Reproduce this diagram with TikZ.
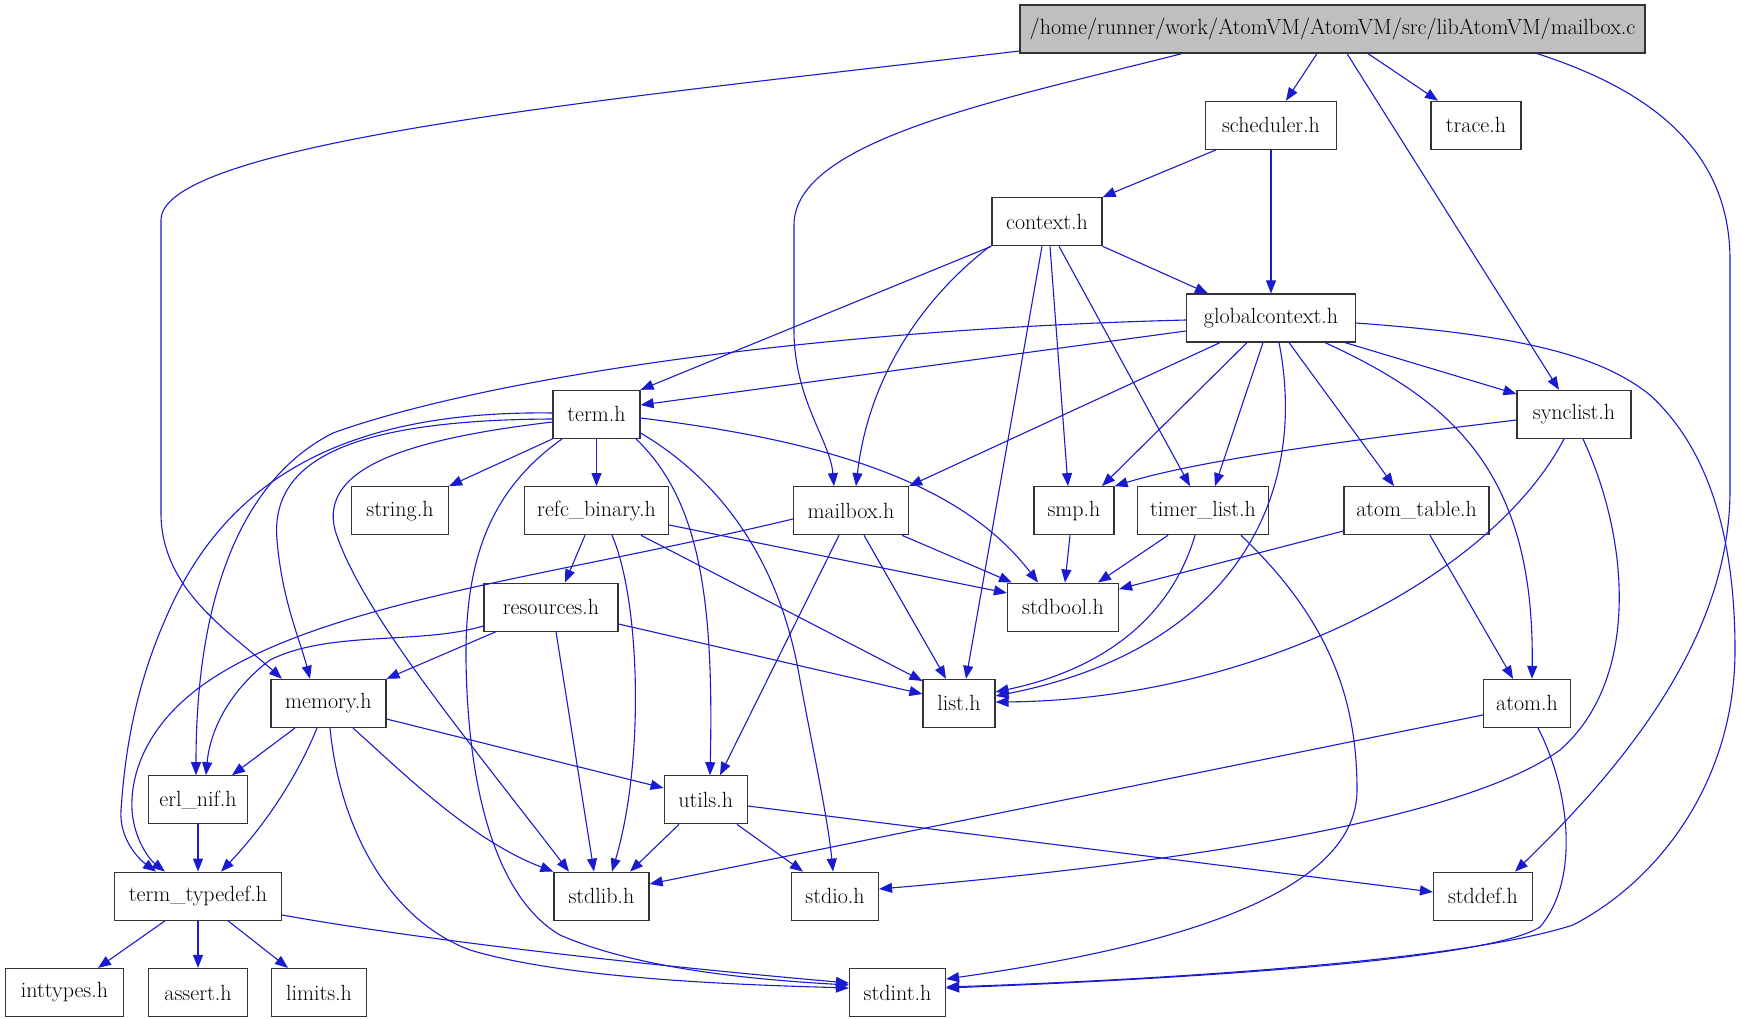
\documentclass[tikz,border=0pt]{standalone}
\usepackage{fontspec}
\usetikzlibrary{arrows.meta,calc}
\definecolor{eb}{RGB}{26,26,208}
\definecolor{ng}{RGB}{191,191,191}
\tikzset{
 box/.style={draw=black!80, line width=1.2pt, fill=white, minimum height=48pt, inner sep=0pt, font=\fontsize{22}{26}\selectfont, anchor=center},
 rootbox/.style={box, fill=ng},
 e/.style={draw=eb, line width=1.1pt, -{Triangle[length=13pt,width=10pt]}},
}
\begin{document}
\begin{tikzpicture}[x=1pt,y=-1pt]
\useasboundingbox (0,0) rectangle (1741,1019);
\fill[white] (0,0) rectangle (1741,1019);
% nodes
\node[rootbox, minimum width=625pt] (mailboxc) at (1332.5,29) {/home/runner/work/AtomVM/AtomVM/src/libAtomVM/mailbox.c};
\node[box, minimum width=131pt] (scheduler) at (1271,125.3) {scheduler.h};
\node[box, minimum width=90pt] (trace) at (1476,125.3) {trace.h};
\node[box, minimum width=110pt] (context) at (1047,221.7) {context.h};
\node[box, minimum width=169pt] (globalcontext) at (1271,318) {globalcontext.h};
\node[box, minimum width=87pt] (term) at (596.5,414.4) {term.h};
\node[box, minimum width=114pt] (synclist) at (1574,414.4) {synclist.h};
\node[box, minimum width=97pt] (string) at (400,510.7) {string.h};
\node[box, minimum width=144pt] (refc) at (596.5,510.7) {refc\_binary.h};
\node[box, minimum width=115pt] (mailboxh) at (851,510.7) {mailbox.h};
\node[box, minimum width=80pt] (smp) at (1074,510.7) {smp.h};
\node[box, minimum width=131pt] (timer) at (1203,510.7) {timer\_list.h};
\node[box, minimum width=145pt] (atomtable) at (1416.5,510.7) {atom\_table.h};
\node[box, minimum width=134pt] (resources) at (551,607.1) {resources.h};
\node[box, minimum width=111pt] (stdbool) at (1063,607.1) {stdbool.h};
\node[box, minimum width=115pt] (memory) at (328.4,703.4) {memory.h};
\node[box, minimum width=72pt] (list) at (959,703.4) {list.h};
\node[box, minimum width=87pt] (atom) at (1527,703.4) {atom.h};
\node[box, minimum width=99pt] (erlnif) at (198,799.8) {erl\_nif.h};
\node[box, minimum width=83pt] (utils) at (705.7,799.8) {utils.h};
\node[box, minimum width=167pt] (termtypedef) at (198,896.2) {term\_typedef.h};
\node[box, minimum width=95pt] (stdlib) at (601.5,896.2) {stdlib.h};
\node[box, minimum width=87pt] (stdio) at (835,896.2) {stdio.h};
\node[box, minimum width=99pt] (stddef) at (1483,896.2) {stddef.h};
\node[box, minimum width=118pt] (inttypes) at (64.5,992.5) {inttypes.h};
\node[box, minimum width=99pt] (assert) at (198,992.5) {assert.h};
\node[box, minimum width=95pt] (limits) at (319,992.5) {limits.h};
\node[box, minimum width=96pt] (stdint) at (897.5,992.5) {stdint.h};
% edges from mailbox.c
\draw[e] (mailboxc.west |- 0,51) .. controls (650,95) and (161,140) .. (161,220) -- (161,513) .. controls (161,590) and (230,632) .. (memory.north -| 282,0);
\draw[e] (mailboxc.south -| 1182,0) .. controls (1000,100) and (794,140) .. (794,225) -- (794,330) .. controls (794,400) and (830,440) .. (mailboxh.north -| 834,0);
\draw[e] (mailboxc.south -| 1317,0) -- (scheduler.north -| 1286,0);
\draw[e] (mailboxc.south -| 1368,0) -- (trace.north -| 1438,0);
\draw[e] (mailboxc.south -| 1347,0) -- (synclist.north -| 1559,0);
\draw[e] (mailboxc.south -| 1537,0) .. controls (1650,90) and (1730,150) .. (1730,260) -- (1730,490) .. controls (1730,640) and (1620,770) .. (stddef.north -| 1515,0);
% scheduler
\draw[e] (scheduler.south -| 1216,0) -- (context.north east);
\draw[e] (scheduler.south) -- (globalcontext.north);
% context
\draw[e] (context.south east) -- (globalcontext.north -| 1208,0);
\draw[e] (context.south west) -- (term.north east);
\draw[e] (context.south -| 990,0) .. controls (920,300) and (868,380) .. (mailboxh.north -| 856,0);
\draw[e] (context.south -| 1042,0) -- (list.north -| 966,0);
\draw[e] (context.south -| 1050,0) -- (smp.north -| 1068,0);
\draw[e] (context.south -| 1059,0) -- (timer.north -| 1190,0);
% globalcontext
\draw[e] (globalcontext.west |- 0,331) -- (term.east |- 0,405);
\draw[e] (globalcontext.west |- 0,320) .. controls (800,330) and (480,380) .. (333,433) .. controls (240,480) and (196,600) .. (erlnif.north -| 196,0);
\draw[e] (globalcontext.south -| 1220,0) -- (mailboxh.north east);
\draw[e] (globalcontext.south -| 1247,0) -- (smp.north -| 1102,0);
\draw[e] (globalcontext.south -| 1263,0) -- (timer.north -| 1215,0);
\draw[e] (globalcontext.south -| 1279,0) .. controls (1310,500) and (1230,650) .. (list.east |- 0,696);
\draw[e] (globalcontext.south -| 1289,0) -- (atomtable.north -| 1394,0);
\draw[e] (globalcontext.south -| 1325,0) .. controls (1450,400) and (1535,470) .. (atom.north -| 1532,0);
\draw[e] (globalcontext.south -| 1345,0) -- (synclist.west |- 0,394);
\draw[e] (globalcontext.east |- 0,323) .. controls (1520,335) and (1600,355) .. (1650,395) .. controls (1710,450) and (1735,540) .. (1735,650) .. controls (1735,780) and (1660,880) .. (1573,925) .. controls (1450,965) and (1100,982) .. (stdint.east |- 0,987);
% term
\draw[e] (term.west |- 0,413) .. controls (330,410) and (220,490) .. (165,620) .. controls (130,700) and (124,770) .. (121,810) .. controls (119,840) and (140,860) .. (termtypedef.north -| 156,0);
\draw[e] (term.west |- 0,419) .. controls (350,420) and (270,460) .. (277,540) .. controls (282,600) and (300,640) .. (memory.north -| 310,0);
\draw[e] (term.west |- 0,422) .. controls (400,440) and (320,470) .. (335,530) .. controls (360,610) and (460,730) .. (stdlib.north -| 569,0);
\draw[e] (term.south -| 562,0) .. controls (490,490) and (465,560) .. (466,660) .. controls (468,800) and (500,900) .. (560,935) .. controls (640,970) and (760,980) .. (stdint.west |- 0,985);
\draw[e] (term.south west) -- (string.north east);
\draw[e] (term.south) -- (refc.north);
\draw[e] (term.east |- 0,418) .. controls (820,440) and (960,480) .. (stdbool.north -| 1038,0);
\draw[e] (term.south -| 636,0) .. controls (700,500) and (714,600) .. (utils.north -| 710,0);
\draw[e] (term.east |- 0,433) .. controls (720,480) and (780,560) .. (800,680) .. controls (815,760) and (828,820) .. (stdio.north -| 833,0);
% refc_binary
\draw[e] (refc.south -| 585,0) -- (resources.north -| 565,0);
\draw[e] (refc.south -| 612,0) .. controls (640,600) and (645,760) .. (stdlib.north -| 612,0);
\draw[e] (refc.south -| 641,0) -- (list.west |- 0,681);
\draw[e] (refc.east |- 0,525) -- (stdbool.west |- 0,593);
% resources
\draw[e] (resources.west |- 0,626) .. controls (420,645) and (330,630) .. (270,660) .. controls (230,690) and (210,730) .. (erlnif.north -| 206,0);
\draw[e] (resources.south -| 496,0) -- (memory.north east);
\draw[e] (resources.south -| 556,0) -- (stdlib.north -| 594,0);
\draw[e] (resources.east |- 0,624) -- (list.west |- 0,694);
% memory
\draw[e] (memory.south -| 295,0) -- (erlnif.north -| 232,0);
\draw[e] (memory.south -| 317,0) .. controls (300,770) and (270,820) .. (termtypedef.north -| 221,0);
\draw[e] (memory.south -| 330,0) .. controls (340,830) and (390,920) .. (470,950) .. controls (570,980) and (750,985) .. (stdint.west |- 0,988);
\draw[e] (memory.south -| 353,0) .. controls (400,770) and (470,840) .. (stdlib.north west);
\draw[e] (memory.east |- 0,719) -- (utils.west |- 0,788);
% erl_nif, term_typedef
\draw[e] (erlnif.south) -- (termtypedef.north);
\draw[e] (termtypedef.south -| 165,0) -- (inttypes.north -| 98,0);
\draw[e] (termtypedef.south) -- (assert.north);
\draw[e] (termtypedef.south -| 228,0) -- (limits.north -| 288,0);
\draw[e] (termtypedef.east |- 0,915) .. controls (450,945) and (700,970) .. (stdint.west |- 0,983);
% utils
\draw[e] (utils.south -| 679,0) -- (stdlib.north -| 630,0);
\draw[e] (utils.south -| 737,0) -- (stdio.north -| 803,0);
\draw[e] (utils.east |- 0,806) -- (stddef.west |- 0,892);
% mailbox.h
\draw[e] (mailboxh.west |- 0,519) .. controls (560,575) and (330,600) .. (210,680) .. controls (150,720) and (130,770) .. (132,810) .. controls (134,840) and (150,860) .. (termtypedef.north -| 165,0);
\draw[e] (mailboxh.south -| 839,0) -- (utils.north -| 720,0);
\draw[e] (mailboxh.south -| 864,0) -- (list.north -| 946,0);
\draw[e] (mailboxh.south -| 902,0) -- (stdbool.north -| 1012,0);
% smp, timer_list
\draw[e] (smp.south -| 1070,0) -- (stdbool.north -| 1065,0);
\draw[e] (timer.south -| 1168,0) -- (stdbool.north -| 1098,0);
\draw[e] (timer.south -| 1195,0) .. controls (1170,620) and (1100,670) .. (list.east |- 0,692);
\draw[e] (timer.south -| 1241,0) .. controls (1330,620) and (1357,700) .. (1357,790) .. controls (1357,900) and (1150,950) .. (stdint.east |- 0,979);
% atom_table, atom
\draw[e] (atomtable.west |- 0,531) -- (stdbool.east |- 0,589);
\draw[e] (atomtable.south -| 1430,0) -- (atom.north -| 1513,0);
\draw[e] (atom.west |- 0,715) -- (stdlib.east |- 0,884);
\draw[e] (atom.south -| 1538,0) .. controls (1570,790) and (1580,880) .. (1540,927) .. controls (1480,965) and (1100,982) .. (stdint.east |- 0,988);
% synclist
\draw[e] (synclist.west |- 0,420) .. controls (1350,440) and (1200,460) .. (smp.north east);
\draw[e] (synclist.south -| 1564,0) .. controls (1490,580) and (1250,700) .. (list.east |- 0,702);
\draw[e] (synclist.south -| 1583,0) .. controls (1630,540) and (1640,680) .. (1560,750) .. controls (1450,830) and (1100,870) .. (stdio.east |- 0,889);
\end{tikzpicture}
\end{document}
